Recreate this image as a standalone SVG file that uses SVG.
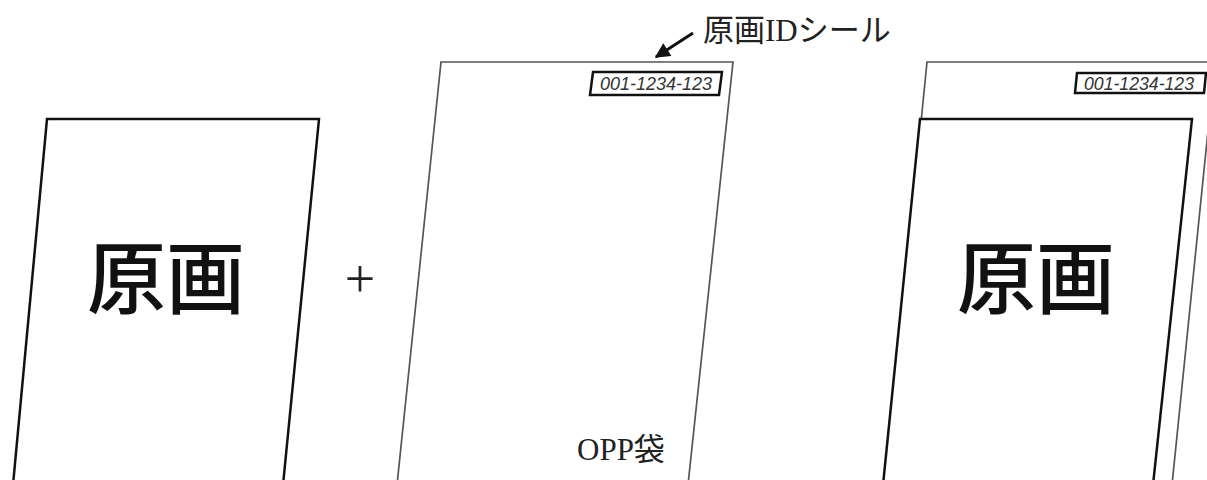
<svg xmlns="http://www.w3.org/2000/svg" width="1207" height="480" viewBox="0 0 1207 480">
<style>
.card{fill:#fff;stroke:#111;stroke-width:2.5;stroke-linejoin:miter}
.bag{fill:#fff;stroke:#555;stroke-width:1.7}
.tag{fill:#fff;stroke:#111;stroke-width:2.5}
.tagt{font-family:"Liberation Sans",sans-serif;font-style:italic;font-size:18px;fill:#333}
.big{font-family:"Noto Sans CJK JP",sans-serif;font-size:79px;font-weight:500;fill:#111;text-anchor:middle}
.lbl{font-family:"Liberation Serif","Noto Sans CJK JP",serif;fill:#222}
</style>
<defs>
<marker id="ah" viewBox="0 0 10 10" refX="9" refY="5" markerWidth="5.5" markerHeight="5" orient="auto" markerUnits="strokeWidth">
<path d="M0,0 L10,5 L0,10 z" fill="#111"/>
</marker>
</defs>
<g id="original-left">
<polygon class="card" points="47,119 319,119 283,485 13,485"/>
<text class="big" x="166" y="308">原画</text>
</g>
<g id="plus">
<text class="lbl" x="360" y="297" font-size="54" text-anchor="middle">+</text>
</g>
<g id="opp-bag">
<polygon class="bag" points="441,62 733,62 688,485 397,485"/>
<polygon class="tag" points="593,72 722,72 719,95 590,95"/>
<text class="tagt" x="600" y="90" textLength="112" lengthAdjust="spacingAndGlyphs">001-1234-123</text>
<text class="lbl" x="577" y="460" font-size="31">OPP袋</text>
</g>
<g id="id-label">
<text class="lbl" x="703" y="41" font-size="31">原画IDシール</text>
</g>
<g id="combined">
<polygon class="bag" points="927,62 1215,62 1172,485 885,485"/>
<polygon class="tag" points="1077,73 1206,73 1204,93 1075,93"/>
<text class="tagt" x="1084" y="90" textLength="110" lengthAdjust="spacingAndGlyphs">001-1234-123</text>
<polygon class="card" points="920,119 1192,119 1153,485 883,485" stroke-width="3"/>
<text class="big" x="1036" y="308">原画</text>
</g>
<g id="connectors">
<line x1="693" y1="33" x2="656" y2="57" stroke="#111" stroke-width="3" marker-end="url(#ah)"/>
</g>
</svg>
